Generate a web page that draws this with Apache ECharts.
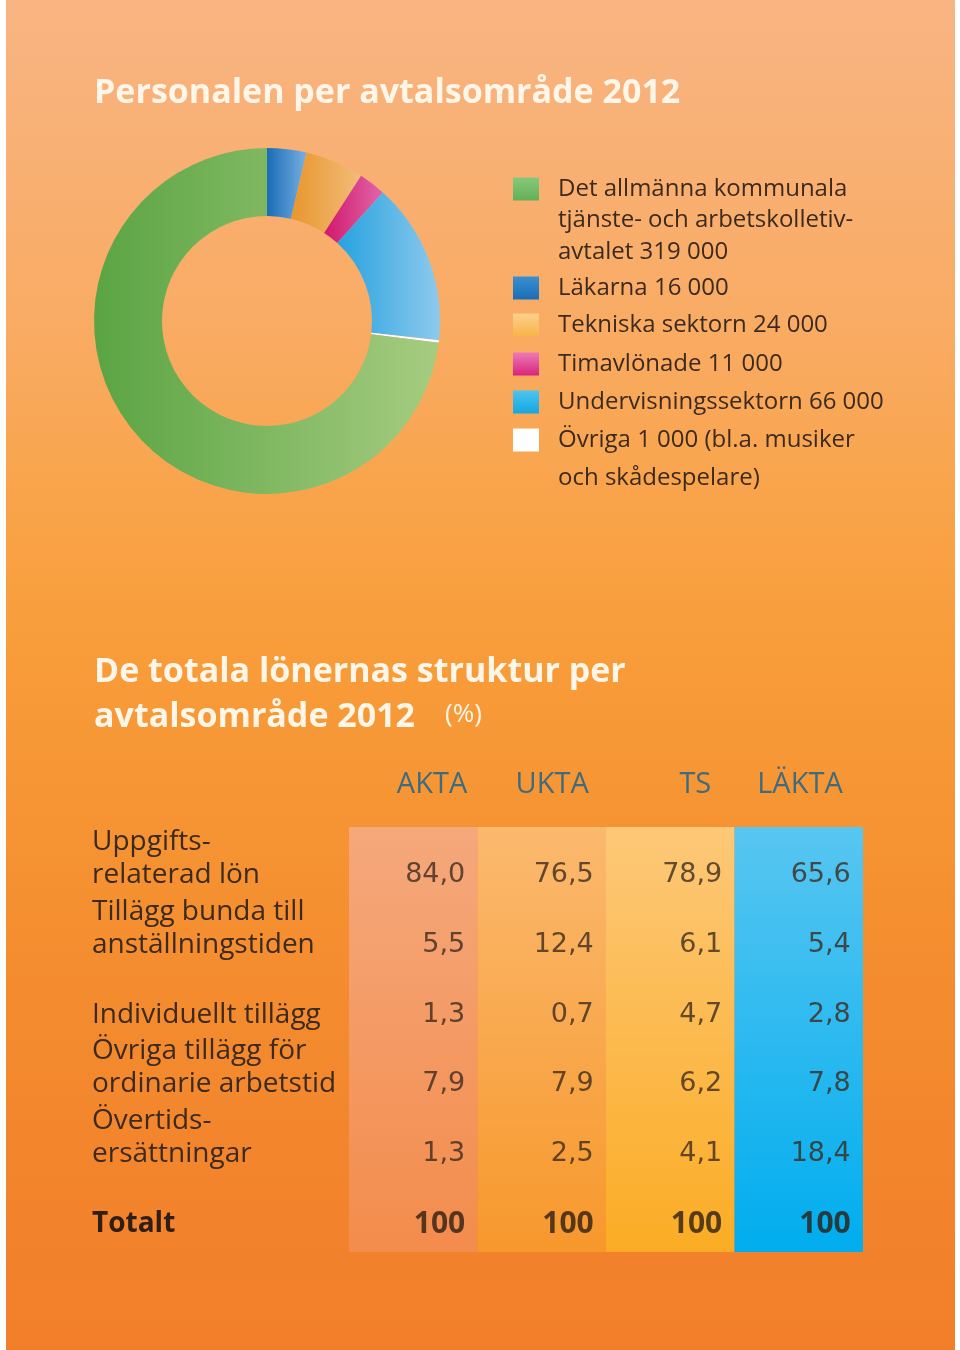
<!DOCTYPE html>
<html>
<head>
<meta charset="utf-8">
<script src="https://cdn.jsdelivr.net/npm/echarts@6/dist/echarts.min.js"></script>
<style>
html,body{margin:0;padding:0;background:#ffffff;}
#c{width:960px;height:1350px;}
</style>
</head>
<body>
<div id="c"></div>
<script>
// ---------- Data: donut ----------
const pieNames = ['Det allmänna kommunala tjänste- och arbetskolletivavtalet', 'Läkarna', 'Tekniska sektorn', 'Timavlönade', 'Undervisningssektorn', 'Övriga'];
const pieValues = [319000, 16000, 24000, 11000, 66000, 1000];
const pieLegendText = [
  'Det allmänna kommunala\ntjänste- och arbetskolletiv-\navtalet {v}',
  'Läkarna {v}',
  'Tekniska sektorn {v}',
  'Timavlönade {v}',
  'Undervisningssektorn {v}',
  'Övriga {v} (bl.a. musiker\noch skådespelare)'
];

// ---------- Data: table ----------
const tableColumns = ['AKTA', 'UKTA', 'TS', 'LÄKTA'];
const tableRows = ['Uppgifts-\nrelaterad lön', 'Tillägg bunda till\nanställningstiden', 'Individuellt tillägg', 'Övriga tillägg för\nordinarie arbetstid', 'Övertids-\nersättningar'];
const totalLabel = 'Totalt';
const aktaValues  = [84.0, 5.5, 1.3, 7.9, 1.3];
const uktaValues  = [76.5, 12.4, 0.7, 7.9, 2.5];
const tsValues    = [78.9, 6.1, 4.7, 6.2, 4.1];
const laktaValues = [65.6, 5.4, 2.8, 7.8, 18.4];
const totals      = [100, 100, 100, 100];

// ---------- Styles ----------
const FONT = '"Open Sans", "DejaVu Sans", sans-serif';
const NUMFONT = '"DejaVu Sans", sans-serif';
const TXT = '#3d2a1e';
const lg = (a, b, horiz) => new echarts.graphic.LinearGradient(0, 0, horiz ? 1 : 0, horiz ? 0 : 1, [{offset: 0, color: a}, {offset: 1, color: b}]);
const sliceColors = [
  lg('#5aa443', '#a6cc80', true),
  lg('#1a6db6', '#78afe2', true),
  lg('#e8962c', '#f3bc7a', true),
  lg('#d0186c', '#e166aa', true),
  lg('#27a2df', '#8ecaee', true),
  '#ffffff'
];
const iconColors = [
  lg('#86c87a', '#62b058'),
  lg('#3a8fd0', '#1a6db6'),
  lg('#fbd08e', '#f8b448'),
  lg('#ec7ab5', '#d8247c'),
  lg('#4cc4f0', '#16a6e0'),
  '#ffffff'
];
const columnColors = [
  lg('#f5a87c', '#f38c4c'),
  lg('#fbb96e', '#f7982c'),
  lg('#fdc878', '#fbac24'),
  lg('#58c6f1', '#00adee')
];
const headerShift = [54, 47, 41, 44];

const fmtThousands = v => String(v).replace(/\B(?=(\d{3})+(?!\d))/g, ' ');
const fmtDec = v => v.toFixed(1).replace('.', ',');

// pie drawn clockwise from top, the first legend category comes last
const pieOrder = [1, 2, 3, 4, 5, 0];
const pieData = pieOrder.map(i => ({name: pieNames[i], value: pieValues[i], itemStyle: {color: sliceColors[i]}}));

// legends: one per item so multi-line labels keep their first line beside the swatch
const legendIconCenters = [189, 288, 325, 364, 402, 440];
const legendLineHeights = [31.5, 31, 31, 31, 31, 38];
const legends = pieNames.map((n, i) => {
  const text = pieLegendText[i].replace('{v}', fmtThousands(pieValues[i]));
  const lines = text.split('\n').length;
  const lh = legendLineHeights[i];
  const shown = '\u00a0\n'.repeat(lines - 1) + text;
  return {
    left: 513, top: legendIconCenters[i] - (2 * lines - 1) * lh / 2, padding: 0, orient: 'vertical',
    selectedMode: false, icon: 'rect', itemWidth: 26, itemHeight: 23,
    data: [{name: n, itemStyle: {color: iconColors[i]}}],
    formatter: () => shown,
    textStyle: {fontFamily: FONT, fontSize: 24, color: TXT, lineHeight: lh, padding: [0, 0, 0, 14]}
  };
});

// table scatter (text cells)
const colValues = [aktaValues, uktaValues, tsValues, laktaValues];
const cellData = [];
colValues.forEach((vals, c) => {
  vals.forEach((v, r) => cellData.push({value: [c, r, v]}));
  cellData.push({value: [c, tableRows.length, totals[c]],
    label: {fontFamily: FONT, fontSize: 30, fontWeight: 'bold', color: '#2e1e14', formatter: p => String(p.value[2])}});
});

const option = {
  animation: false,
  backgroundColor: '#ffffff',
  graphic: [{
    type: 'rect', left: 6, top: 0, z: -10, silent: true,
    shape: {width: 949, height: 1350},
    style: {fill: new echarts.graphic.LinearGradient(0, 0, 0, 1, [
      {offset: 0, color: '#f8b482'},
      {offset: 0.25, color: '#f9ab62'},
      {offset: 0.4, color: '#f9a245'},
      {offset: 0.5, color: '#f89b38'},
      {offset: 0.65, color: '#f59131'},
      {offset: 0.82, color: '#f3872d'},
      {offset: 1, color: '#f27e2a'}
    ])}
  }],
  title: [
    {text: 'Personalen per avtalsområde 2012', left: 94, top: 72, padding: 0,
     textStyle: {fontFamily: FONT, fontSize: 34, fontWeight: 'bold', color: '#fff6ea', lineHeight: 42}},
    {text: 'De totala lönernas struktur per\navtalsområde 2012', left: 94, top: 650, padding: 0,
     textStyle: {fontFamily: FONT, fontSize: 34, fontWeight: 'bold', color: '#fff6ea', lineHeight: 45}},
    {text: '(%)', left: 445, top: 700, padding: 0,
     textStyle: {fontFamily: FONT, fontSize: 26, fontWeight: 'normal', color: '#fff6ea', lineHeight: 30}}
  ],
  legend: legends,
  grid: [
    {left: 349, top: 827, width: 514, height: 425, containLabel: false},
    {left: 349, top: 840, width: 514, height: 419, containLabel: false}
  ],
  xAxis: [
    {gridIndex: 0, type: 'category', data: tableColumns, show: false},
    {gridIndex: 1, type: 'category', position: 'top',
     data: tableColumns.map((c, i) => ({value: c, textStyle: {align: 'right', padding: [0, -headerShift[i], 0, 0],
       fontFamily: FONT, fontSize: 29, color: '#3f6b7c'}})),
     axisLine: {show: false}, axisTick: {show: false}, splitLine: {show: false},
     axisLabel: {interval: 0, fontFamily: FONT, fontSize: 29, color: '#3f6b7c', align: 'right', margin: 41}}
  ],
  yAxis: [
    {gridIndex: 0, type: 'value', min: 0, max: 100, show: false},
    {gridIndex: 1, type: 'category', inverse: true,
     data: tableRows.concat([{value: totalLabel, textStyle: {fontWeight: 'bold', align: 'left', color: '#2e1e14'}}]),
     axisLine: {show: false}, axisTick: {show: false}, splitLine: {show: false},
     axisLabel: {interval: 0, fontFamily: FONT, fontSize: 28, color: TXT, align: 'left', margin: 257, lineHeight: 33,
       formatter: v => v + '\n\u00a0'.repeat(v.split('\n').length - 1)}}
  ],
  series: [
    {
      type: 'pie', center: [267, 321], radius: [105, 173], startAngle: 90, clockwise: true,
      silent: true, label: {show: false}, labelLine: {show: false}, data: pieData
    },
    {
      type: 'bar', xAxisIndex: 0, yAxisIndex: 0, barCategoryGap: '0%', silent: true,
      data: totals.map((t, i) => ({value: t, itemStyle: {color: columnColors[i]}}))
    },
    {
      type: 'scatter', xAxisIndex: 1, yAxisIndex: 1, symbolSize: 1, silent: true,
      itemStyle: {color: 'rgba(0,0,0,0)'},
      label: {show: true, position: 'inside', align: 'right', offset: [52, 0],
        fontFamily: NUMFONT, fontSize: 27, color: TXT, formatter: p => fmtDec(p.value[2])},
      data: cellData
    }
  ]
};
const chart = echarts.init(document.getElementById('c'), null, {renderer: 'canvas'});
chart.setOption(option);
</script>
</body>
</html>
